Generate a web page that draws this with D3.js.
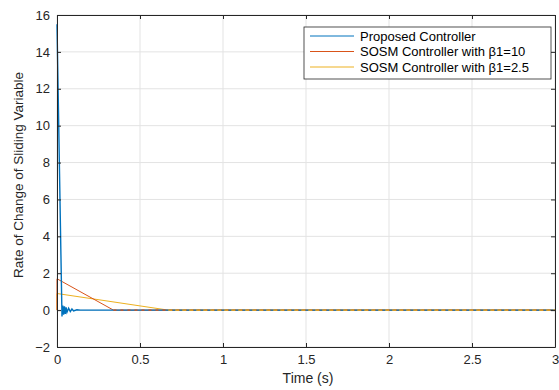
<!DOCTYPE html>
<html>
<head>
<meta charset="utf-8">
<script src="https://cdn.jsdelivr.net/npm/d3@7"></script>
<style>
  body { margin: 0; background: #fff; }
  svg { font-family: "Liberation Sans", Arial, sans-serif; }
</style>
</head>
<body>
<div id="chart"></div>
<script>
// Series: [time (s), value]
const proposed = [
  [0, 15.5], [0.03, -0.35], [0.035, 0.25], [0.04, -0.25], [0.045, 0.2], [0.05, -0.2],
  [0.055, 0.15], [0.06, -0.12], [0.07, 0.1], [0.08, -0.08], [0.09, 0.06], [0.1, -0.04],
  [0.12, 0.02], [0.14, 0], [3, 0]
];
const sosm10 = [[0, 0], [0, 1.7], [0.34, 0], [3, 0]];
const sosm25 = [[0, 0], [0, 0.9], [0.67, 0], [3, 0]];

const seriesNames = ["Proposed Controller", "SOSM Controller with β1=10", "SOSM Controller with β1=2.5"];
const seriesColors = ["#0072BD", "#D95319", "#EDB120"];
const xTicks = [0, 0.5, 1, 1.5, 2, 2.5, 3];
const yTicks = [-2, 0, 2, 4, 6, 8, 10, 12, 14, 16];

const width = 559, height = 390;
const margin = { top: 15, right: 4, bottom: 43, left: 57 };

const svg = d3.select("#chart").append("svg")
  .attr("width", width)
  .attr("height", height);

const x = d3.scaleLinear().domain([0, 3]).range([margin.left, width - margin.right]);
const y = d3.scaleLinear().domain([-2, 16]).range([height - margin.bottom, margin.top]);

// grid
svg.append("g").selectAll("line").data(xTicks).join("line")
  .attr("x1", d => x(d)).attr("x2", d => x(d))
  .attr("y1", y(-2)).attr("y2", y(16))
  .attr("stroke", "#e3e3e3");
svg.append("g").selectAll("line").data(yTicks).join("line")
  .attr("x1", x(0)).attr("x2", x(3))
  .attr("y1", d => y(d)).attr("y2", d => y(d))
  .attr("stroke", "#e3e3e3");

// lines
const line = d3.line().x(d => x(d[0])).y(d => y(d[1]));
[sosm25, sosm10, proposed].forEach((s, i) => {
  const idx = 2 - i;
  svg.append("path")
    .datum(s)
    .attr("fill", "none")
    .attr("stroke", seriesColors[idx])
    .attr("stroke-width", idx === 0 ? 1.4 : 1)
    .attr("d", line);
});

// chatter on the settled tails (drawn as a dashed overlay)
svg.append("path")
  .datum([[0.34, 0], [3, 0]])
  .attr("fill", "none")
  .attr("stroke", seriesColors[1])
  .attr("stroke-width", 1.2)
  .attr("stroke-dasharray", "3,4")
  .attr("d", line);
svg.append("path")
  .datum([[0.67, 0], [3, 0]])
  .attr("fill", "none")
  .attr("stroke", seriesColors[2])
  .attr("stroke-width", 1.4)
  .attr("stroke-dasharray", "4,3")
  .attr("d", line);

// axes
svg.append("g")
  .attr("transform", `translate(0,${y(-2)})`)
  .call(d3.axisBottom(x).tickValues(xTicks).tickSizeInner(-4).tickSizeOuter(0).tickPadding(8)
    .tickFormat(d => String(d)));
svg.append("g")
  .attr("transform", `translate(${x(0)},0)`)
  .call(d3.axisLeft(y).tickValues(yTicks).tickSizeInner(-4).tickSizeOuter(0).tickPadding(7));
// top and right ticks
svg.append("g")
  .attr("transform", `translate(0,${y(16)})`)
  .call(d3.axisTop(x).tickValues(xTicks).tickSizeInner(-4).tickSizeOuter(0).tickFormat(""));
svg.append("g")
  .attr("transform", `translate(${x(3)},0)`)
  .call(d3.axisRight(y).tickValues(yTicks).tickSizeInner(-4).tickSizeOuter(0).tickFormat(""));

svg.selectAll(".domain").attr("stroke", "#262626");
svg.selectAll(".tick line").attr("stroke", "#262626");
svg.selectAll(".tick text").attr("fill", "#262626").style("font-size", "13px")
  .style("font-family", "Liberation Sans, Arial, sans-serif");

// axis labels
svg.append("text")
  .attr("x", 308).attr("y", 383)
  .attr("text-anchor", "middle")
  .attr("fill", "#262626")
  .style("font-size", "14px")
  .text("Time (s)");
svg.append("text")
  .attr("transform", "translate(23,175) rotate(-90)")
  .attr("text-anchor", "middle")
  .attr("fill", "#262626")
  .style("font-size", "13.5px")
  .text("Rate of Change of Sliding Variable");

// legend
const legend = svg.append("g").attr("transform", "translate(304,27)");
legend.append("rect")
  .attr("width", 247).attr("height", 52)
  .attr("fill", "#fff").attr("stroke", "#262626").attr("stroke-width", 0.8);
seriesNames.forEach((name, i) => {
  const ly = 9 + i * 15.5;
  legend.append("line")
    .attr("x1", 6).attr("x2", 50).attr("y1", ly).attr("y2", ly)
    .attr("stroke", seriesColors[i]).attr("stroke-width", 1);
  legend.append("text")
    .attr("x", 56).attr("y", ly + 4.5)
    .attr("fill", "#000")
    .style("font-size", "13px")
    .text(name);
});
</script>
</body>
</html>
